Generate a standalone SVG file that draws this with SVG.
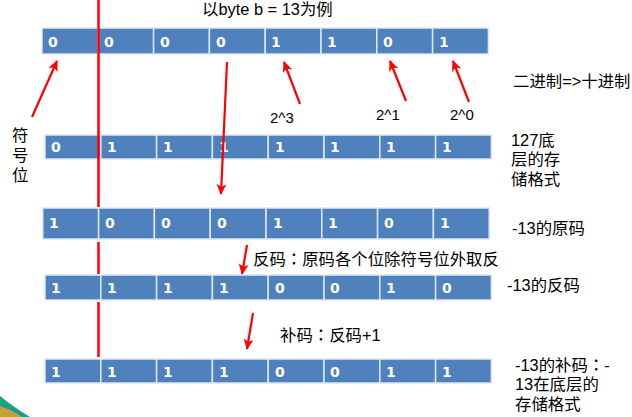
<svg xmlns="http://www.w3.org/2000/svg" width="632" height="417" viewBox="0 0 632 417">
<style>
.cell{fill:#4F81BD;stroke:#dfe7f2;stroke-width:1.5}
.d{font-family:"DejaVu Sans",sans-serif;font-weight:bold;font-size:14px;fill:#ffffff}
.t{font-family:"Liberation Sans","Noto Sans CJK SC",sans-serif;font-size:16.4px;fill:#000000}
.t2{font-family:"Liberation Sans","Noto Sans CJK SC",sans-serif;font-size:15px;fill:#000000}
.c{font-family:"Noto Sans CJK TC",sans-serif}
.red{stroke:#FF0000;stroke-width:2.5;fill:none}
.arr{stroke:#FF0000;stroke-width:2.2;fill:none;marker-end:url(#ah)}
</style>
<defs>
<marker id="ah" markerUnits="userSpaceOnUse" markerWidth="12" markerHeight="10" refX="10" refY="5" orient="auto">
<path d="M0,0 L11,5 L0,10 L3,5 Z" fill="#FF0000"/>
</marker>
</defs>
<rect width="632" height="417" fill="#ffffff"/>
<g id="corner-decoration">
<path d="M0,396 Q12,406 30,417 L0,417 Z" fill="#1a9e86"/>
<path d="M0,406 Q12,410 22,417 L0,417 Z" fill="#e0a030" opacity="0.85"/>
</g>
<g id="row1">
<rect class="cell" x="42" y="28" width="55.8" height="26"/>
<rect class="cell" x="97.8" y="28" width="55.8" height="26"/>
<rect class="cell" x="153.6" y="28" width="55.8" height="26"/>
<rect class="cell" x="209.4" y="28" width="55.8" height="26"/>
<rect class="cell" x="265.2" y="28" width="55.8" height="26"/>
<rect class="cell" x="321" y="28" width="55.8" height="26"/>
<rect class="cell" x="376.8" y="28" width="55.8" height="26"/>
<rect class="cell" x="432.6" y="28" width="55.8" height="26"/>
<text class="d" x="48" y="47">0</text>
<text class="d" x="104" y="47">0</text>
<text class="d" x="160" y="47">0</text>
<text class="d" x="216" y="47">0</text>
<text class="d" x="271" y="47">1</text>
<text class="d" x="327" y="47">1</text>
<text class="d" x="383" y="47">0</text>
<text class="d" x="439" y="47">1</text>
</g>
<g id="row2">
<rect class="cell" x="45" y="135" width="55.8" height="24"/>
<rect class="cell" x="100.8" y="135" width="55.8" height="24"/>
<rect class="cell" x="156.6" y="135" width="55.8" height="24"/>
<rect class="cell" x="212.4" y="135" width="55.8" height="24"/>
<rect class="cell" x="268.2" y="135" width="55.8" height="24"/>
<rect class="cell" x="324" y="135" width="55.8" height="24"/>
<rect class="cell" x="379.8" y="135" width="55.8" height="24"/>
<rect class="cell" x="435.6" y="135" width="55.8" height="24"/>
<text class="d" x="51" y="152">0</text>
<text class="d" x="107" y="152">1</text>
<text class="d" x="163" y="152">1</text>
<text class="d" x="219" y="152">1</text>
<text class="d" x="275" y="152">1</text>
<text class="d" x="330" y="152">1</text>
<text class="d" x="386" y="152">1</text>
<text class="d" x="442" y="152">1</text>
</g>
<g id="row3">
<rect class="cell" x="42.8" y="208" width="55.8" height="31"/>
<rect class="cell" x="98.6" y="208" width="55.8" height="31"/>
<rect class="cell" x="154.4" y="208" width="55.8" height="31"/>
<rect class="cell" x="210.2" y="208" width="55.8" height="31"/>
<rect class="cell" x="266" y="208" width="55.8" height="31"/>
<rect class="cell" x="321.8" y="208" width="55.8" height="31"/>
<rect class="cell" x="377.6" y="208" width="55.8" height="31"/>
<rect class="cell" x="433.4" y="208" width="55.8" height="31"/>
<text class="d" x="49" y="228">1</text>
<text class="d" x="105" y="228">0</text>
<text class="d" x="161" y="228">0</text>
<text class="d" x="217" y="228">0</text>
<text class="d" x="273" y="228">1</text>
<text class="d" x="328" y="228">1</text>
<text class="d" x="384" y="228">0</text>
<text class="d" x="440" y="228">1</text>
</g>
<g id="row4">
<rect class="cell" x="45" y="275" width="55.8" height="25"/>
<rect class="cell" x="100.8" y="275" width="55.8" height="25"/>
<rect class="cell" x="156.6" y="275" width="55.8" height="25"/>
<rect class="cell" x="212.4" y="275" width="55.8" height="25"/>
<rect class="cell" x="268.2" y="275" width="55.8" height="25"/>
<rect class="cell" x="324" y="275" width="55.8" height="25"/>
<rect class="cell" x="379.8" y="275" width="55.8" height="25"/>
<rect class="cell" x="435.6" y="275" width="55.8" height="25"/>
<text class="d" x="51" y="293">1</text>
<text class="d" x="107" y="293">1</text>
<text class="d" x="163" y="293">1</text>
<text class="d" x="219" y="293">1</text>
<text class="d" x="275" y="293">0</text>
<text class="d" x="330" y="293">0</text>
<text class="d" x="386" y="293">1</text>
<text class="d" x="442" y="293">0</text>
</g>
<g id="row5">
<rect class="cell" x="45" y="359" width="55.8" height="24"/>
<rect class="cell" x="100.8" y="359" width="55.8" height="24"/>
<rect class="cell" x="156.6" y="359" width="55.8" height="24"/>
<rect class="cell" x="212.4" y="359" width="55.8" height="24"/>
<rect class="cell" x="268.2" y="359" width="55.8" height="24"/>
<rect class="cell" x="324" y="359" width="55.8" height="24"/>
<rect class="cell" x="379.8" y="359" width="55.8" height="24"/>
<rect class="cell" x="435.6" y="359" width="55.8" height="24"/>
<text class="d" x="51" y="377">1</text>
<text class="d" x="107" y="377">1</text>
<text class="d" x="163" y="377">1</text>
<text class="d" x="219" y="377">1</text>
<text class="d" x="275" y="377">0</text>
<text class="d" x="330" y="377">0</text>
<text class="d" x="386" y="377">1</text>
<text class="d" x="442" y="377">1</text>
</g>
<g id="connectors">
<line class="red" x1="98.5" y1="0" x2="98.5" y2="207"/>
<line class="red" x1="98.5" y1="242" x2="98.5" y2="274"/>
<line class="red" x1="98.5" y1="302" x2="98.5" y2="357"/>
<line class="arr" x1="32" y1="117" x2="57" y2="61"/>
<line class="arr" x1="227" y1="62" x2="221" y2="194"/>
<line class="arr" x1="300" y1="104" x2="284" y2="62"/>
<line class="arr" x1="406" y1="101" x2="390" y2="61"/>
<line class="arr" x1="469" y1="102" x2="453" y2="61"/>
<line class="arr" x1="247" y1="245" x2="242" y2="274"/>
<line class="arr" x1="253" y1="313" x2="247" y2="349"/>
</g>
<g id="labels">
<text class="t" x="202" y="15">以byte b = 13为例</text>
<text class="t" x="513" y="87">二进制=&gt;十进制</text>
<text class="t2" x="270" y="123">2^3</text>
<text class="t2" x="376" y="120">2^1</text>
<text class="t2" x="450" y="120">2^0</text>
<text class="t" x="12" y="141">符</text>
<text class="t" x="12" y="161">号</text>
<text class="t" x="12" y="181">位</text>
<text class="t" x="511" y="146">127底</text>
<text class="t" x="511" y="165">层的存</text>
<text class="t" x="511" y="185">储格式</text>
<text class="t" x="512" y="234">-13的原码</text>
<text class="t" x="253" y="265" font-size="16.8">反码<tspan class="c">：</tspan>原码各个位除符号位外取反</text>
<text class="t" x="507" y="291">-13的反码</text>
<text class="t" x="280" y="341">补码<tspan class="c">：</tspan>反码+1</text>
<text class="t" x="515" y="371">-13的补码<tspan class="c">：</tspan>-</text>
<text class="t" x="515" y="390">13在底层的</text>
<text class="t" x="515" y="410">存储格式</text>
</g>
</svg>
